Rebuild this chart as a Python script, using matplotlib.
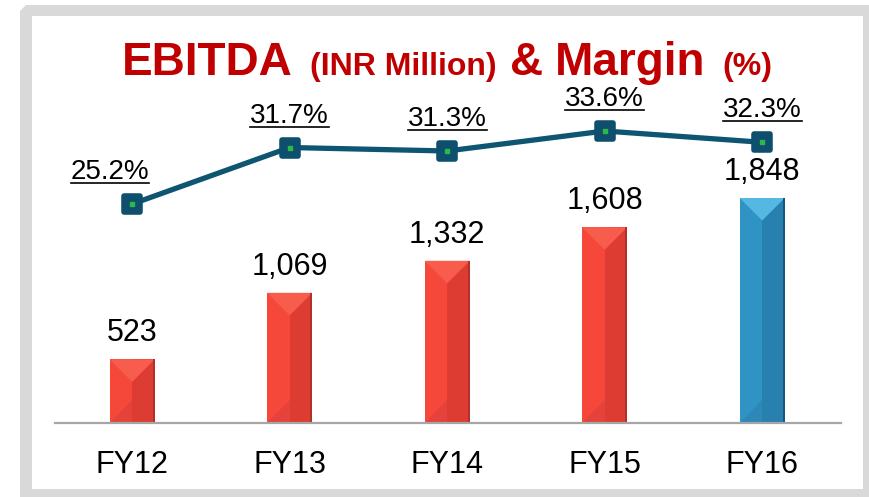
import matplotlib
matplotlib.use('Agg')
import matplotlib.pyplot as plt
from matplotlib.patches import Polygon, Rectangle
from matplotlib.lines import Line2D
from matplotlib.markers import MarkerStyle

categories = ['FY12', 'FY13', 'FY14', 'FY15', 'FY16']
ebitda = [523, 1069, 1332, 1608, 1848]
margin = [25.2, 31.7, 31.3, 33.6, 32.3]
ebitda_labels = ['523', '1,069', '1,332', '1,608', '1,848']
margin_labels = ['25.2%', '31.7%', '31.3%', '33.6%', '32.3%']

plt.rcParams['font.family'] = ['Liberation Sans', 'DejaVu Sans']

W, H = 870, 497
fig = plt.figure(figsize=(8.7, 4.97), dpi=100)
fig.patch.set_facecolor('white')


def fx(px):
    return px / W


def fy(py):
    return 1 - py / H


# frame
frame = Polygon([(fx(26), fy(5)), (fx(870), fy(5)), (fx(870), fy(497)),
                 (fx(20), fy(497)), (fx(20), fy(11))], closed=True,
                transform=fig.transFigure, facecolor='#D9D9D9',
                edgecolor='none', zorder=-3)
fig.patches.append(frame)
inner = Rectangle((fx(32), fy(489)), fx(863) - fx(32), fy(16) - fy(489),
                  transform=fig.transFigure, facecolor='white',
                  edgecolor='none', zorder=-2)
fig.patches.append(inner)

# title
title_color = '#C00000'
pieces = [('EBITDA', 33, 122), ('(INR Million)', 23, 310), ('&', 33, 510),
          ('Margin', 33, 555), ('(%)', 23, 722)]
for txt, fs, px in pieces:
    fig.text(fx(px), fy(75), txt, fontsize=fs, fontweight='bold',
             color=title_color, ha='left', va='baseline')

# axes
ax_left, ax_right, ax_top, ax_bot = 55, 841, 60, 423
ax = fig.add_axes([fx(ax_left), fy(ax_bot), fx(ax_right) - fx(ax_left),
                   fy(ax_top) - fy(ax_bot)])
ax.set_facecolor('none')
xs = list(range(len(categories)))
xlim = (-0.49, 4.5)
ylim_bar = (0, 2981)
ax.set_xlim(*xlim)
ax.set_ylim(*ylim_bar)
bar_w = 0.286

face_left = ['#F5483B'] * 4 + ['#2F93C3']
face_right = ['#DC3C31'] * 4 + ['#2780AD']
face_top = ['#F85C4D'] * 4 + ['#55B8E3']
face_bot = ['#E4423A'] * 4 + ['#2B88B7']
face_edge = ['#B3302A'] * 4 + ['#15587C']

bars = ax.bar(xs, ebitda, width=bar_w, color=face_left, zorder=2)

px_per_x = (ax_right - ax_left) / (xlim[1] - xlim[0])
px_per_y = (ax_bot - ax_top) / (ylim_bar[1] - ylim_bar[0])
for i, r in enumerate(bars):
    x0, w, h = r.get_x(), r.get_width(), r.get_height()
    xc = x0 + w / 2
    x1 = x0 + w
    d = (w / 2) * px_per_x / px_per_y
    edge = 2.0 / px_per_x
    ax.add_patch(Polygon([(xc, 0), (x1, 0), (x1, h), (xc, h)],
                         facecolor=face_right[i], edgecolor='none', zorder=3))
    ax.add_patch(Polygon([(x0, 0), (xc, 0), (xc, d)],
                         facecolor=face_bot[i], edgecolor='none', zorder=3))
    ax.add_patch(Polygon([(x0, h), (x1, h), (xc, h - d)],
                         facecolor=face_top[i], edgecolor='none', zorder=3))
    ax.add_patch(Polygon([(x1 - edge, 0), (x1, 0), (x1, h), (x1 - edge, h)],
                         facecolor=face_edge[i], edgecolor='none', zorder=3))
    ax.annotate(ebitda_labels[i], xy=(xc, h), xytext=(0, 13),
                textcoords='offset points', ha='center', va='baseline',
                fontsize=22, color='black', zorder=5)

for s in ['top', 'left', 'right']:
    ax.spines[s].set_visible(False)
ax.spines['bottom'].set_color('#A6A6A6')
ax.spines['bottom'].set_linewidth(1.6)
ax.spines['bottom'].set_zorder(4)
ax.set_xticks([])
ax.set_yticks([])
for i, c in enumerate(categories):
    ax.annotate(c, xy=(xs[i], 0), xytext=(0, -36), textcoords='offset points',
                ha='center', va='baseline', fontsize=22, color='black',
                annotation_clip=False)

# line axes
ax2 = ax.twinx()
ax2.set_ylim(0, 41.77)
ax2.set_xlim(*xlim)
for s in ax2.spines.values():
    s.set_visible(False)
ax2.set_yticks([])
ax2.plot(xs, margin, color='#0E5572', lw=3.8, zorder=3,
         marker=MarkerStyle('s', joinstyle='round'), ms=11, mew=4,
         mfc='#0D4F6C', mec='#0D4F6C')
ax2.plot(xs, margin, ls='none', marker='s', ms=3.5, color='#2DB84A', zorder=4)

label_dx = [-16, 0, 0, 0, 0]
ptexts = []
for i, lab in enumerate(margin_labels):
    t = ax2.annotate(lab, xy=(xs[i], margin[i]), xytext=(label_dx[i], 18),
                     textcoords='offset points', ha='center', va='baseline',
                     fontsize=20, color='black')
    ptexts.append(t)

fig.canvas.draw()
renderer = fig.canvas.get_renderer()
for i, t in enumerate(ptexts):
    bb = t.get_window_extent(renderer)
    base_px = ax2.transData.transform((xs[i], margin[i]))[1] + 18 * fig.dpi / 72
    yl = base_px - 4
    line = Line2D([bb.x0 / W, bb.x1 / W], [yl / H, yl / H],
                  transform=fig.transFigure, color='black', lw=1.2)
    fig.lines.append(line)

fig.savefig('out.png', dpi=100)
